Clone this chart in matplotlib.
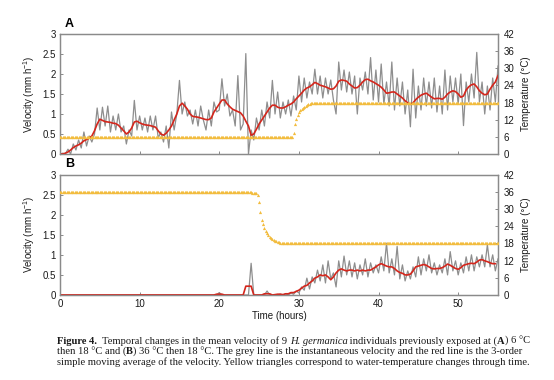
import numpy as np
import matplotlib
matplotlib.use("Agg")
import matplotlib.pyplot as plt
from matplotlib.ticker import FuncFormatter

plt.rcParams['font.family'] = ['Liberation Sans', 'DejaVu Sans']

# ---------------- data ----------------
VEL_STEP_H = 1 / 3      # velocity sampled every 20 min
TEMP_STEP_H = 1 / 6     # temperature sampled every 10 min

grey_A = [
    0.0, 0.02, 0.0, 0.12, 0.0, 0.25, 0.1, 0.35, 0.15, 0.55, 0.2, 0.45,
    0.3, 0.5, 1.15, 0.6, 1.17, 0.7, 1.2, 0.55, 0.95, 0.6, 1.0, 0.55,
    0.7, 0.25, 0.6, 0.45, 1.34, 0.6, 0.95, 0.6, 0.9, 0.55, 0.95, 0.6,
    0.95, 0.4, 0.55, 0.3, 0.7, 0.15, 1.05, 0.6, 1.0, 1.84, 1.0, 1.3,
    0.95, 1.1, 0.75, 1.1, 0.7, 1.2, 0.85, 0.6, 1.1, 0.7, 1.3, 1.05,
    1.1, 1.88, 1.2, 1.5, 0.95, 1.1, 0.7, 1.96, 0.6, 0.75, 2.51, 0.0,
    0.6, 0.35, 0.9, 0.6, 1.1, 0.7, 1.3, 0.9, 1.84, 1.0, 1.55, 0.9,
    1.3, 1.0, 1.35, 0.95, 1.45, 1.1, 1.95, 1.3, 1.9, 1.4, 1.8, 1.5,
    2.12, 1.5, 1.95, 1.4, 1.9, 1.5, 1.85, 1.35, 1.0, 2.3, 1.6, 2.1,
    1.55, 2.05, 1.5, 1.95, 1.0, 1.9, 1.6, 2.05, 1.5, 2.41, 1.35, 2.1,
    1.3, 2.25, 1.25, 1.8, 1.2, 2.3, 1.1, 1.9, 1.2, 1.8, 1.0, 1.6,
    0.68, 2.12, 0.9, 1.7, 1.1, 1.9, 1.2, 1.8, 1.15, 1.9, 1.05, 1.7,
    1.0, 2.1, 1.1, 1.95, 1.3, 1.9, 1.25, 2.0, 0.71, 1.8, 1.3, 2.0,
    1.4, 2.54, 1.3, 1.8, 1.0, 1.7, 1.1, 1.9, 1.3, 2.2,
]
red_A = [
    0.0, 0.0, 0.02, 0.05, 0.1, 0.16, 0.2, 0.23, 0.27, 0.33, 0.36, 0.4,
    0.45, 0.58, 0.75, 0.87, 0.84, 0.81, 0.8, 0.79, 0.77, 0.76, 0.72, 0.65,
    0.58, 0.5, 0.55, 0.65, 0.8, 0.82, 0.78, 0.75, 0.73, 0.72, 0.71, 0.69,
    0.67, 0.58, 0.5, 0.47, 0.52, 0.6, 0.7, 0.85, 1.0, 1.2, 1.27, 1.2,
    1.12, 1.0, 0.94, 0.93, 0.92, 0.9, 0.88, 0.86, 0.86, 0.9, 1.05, 1.15,
    1.25, 1.35, 1.35, 1.25, 1.18, 1.12, 1.09, 1.06, 1.03, 0.95, 0.82, 0.7,
    0.47, 0.5, 0.62, 0.75, 0.85, 0.95, 1.05, 1.15, 1.22, 1.22, 1.17, 1.15,
    1.15, 1.18, 1.22, 1.25, 1.3, 1.38, 1.45, 1.52, 1.6, 1.65, 1.68, 1.73,
    1.79, 1.76, 1.72, 1.7, 1.68, 1.65, 1.62, 1.63, 1.7, 1.82, 1.85, 1.84,
    1.82, 1.75, 1.7, 1.65, 1.66, 1.72, 1.8, 1.86, 1.87, 1.83, 1.8, 1.76,
    1.72, 1.67, 1.6, 1.52, 1.53, 1.55, 1.55, 1.5, 1.45, 1.4, 1.33, 1.28,
    1.24, 1.28, 1.36, 1.42, 1.47, 1.5, 1.52, 1.47, 1.42, 1.38, 1.39, 1.39,
    1.37, 1.42, 1.5, 1.55, 1.58, 1.56, 1.5, 1.42, 1.45, 1.6, 1.68, 1.73,
    1.75, 1.68, 1.58, 1.52, 1.48, 1.5, 1.62, 1.72, 1.8, 1.96,
]
grey_B = [0.0] * 60 + [
    0.06, 0.0, 0.0, 0.0, 0.0, 0.0, 0.0, 0.0, 0.0, 0.0, 0.0, 0.0,
    0.79, 0.0, 0.0, 0.0, 0.0, 0.0, 0.1, 0.0, 0.0, 0.0, 0.0, 0.02,
    0.0, 0.03, 0.0, 0.05, 0.02, 0.1, 0.05, 0.2, 0.12, 0.42, 0.15, 0.45,
    0.3, 0.62, 0.35, 0.75, 0.3, 0.85, 0.4, 0.55, 0.2, 0.85, 0.45, 0.97,
    0.5, 0.85, 0.45, 0.8, 0.4, 0.75, 0.5, 0.9, 0.45, 0.8, 0.55, 0.75,
    0.55, 0.95, 0.6, 1.29, 0.55, 0.9, 0.5, 1.21, 0.4, 0.75, 0.35, 0.6,
    0.4, 0.7, 0.45, 0.95, 0.5, 0.9, 0.6, 1.0, 0.55, 0.8, 0.5, 0.75,
    0.55, 0.9, 0.5, 1.08, 0.6, 0.85, 0.5, 0.8, 0.55, 0.95, 0.6, 1.0,
    0.6, 0.95, 0.7, 1.0, 0.7, 1.25, 0.7, 1.0, 0.6, 0.9,
]
red_B = [0.0] * 59 + [
    0.02, 0.02, 0.02, 0.0, 0.0, 0.0, 0.0, 0.0, 0.0, 0.0, 0.0, 0.22,
    0.22, 0.22, 0.0, 0.0, 0.0, 0.0, 0.03, 0.03, 0.03, 0.0, 0.01, 0.02,
    0.02, 0.01, 0.03, 0.03, 0.06, 0.06, 0.09, 0.12, 0.17, 0.22, 0.24, 0.3,
    0.35, 0.42, 0.45, 0.5, 0.48, 0.5, 0.45, 0.38, 0.45, 0.55, 0.62, 0.65,
    0.62, 0.6, 0.62, 0.62, 0.6, 0.62, 0.6, 0.62, 0.6, 0.62, 0.62, 0.66,
    0.7, 0.75, 0.78, 0.75, 0.72, 0.7, 0.7, 0.66, 0.6, 0.56, 0.54, 0.5,
    0.5, 0.52, 0.6, 0.7, 0.72, 0.74, 0.76, 0.74, 0.7, 0.66, 0.65, 0.66,
    0.66, 0.68, 0.72, 0.77, 0.74, 0.7, 0.66, 0.64, 0.68, 0.74, 0.76, 0.78,
    0.79, 0.78, 0.82, 0.87, 0.88, 0.85, 0.83, 0.8, 0.78, 0.78,
]
temp_A = [6.0] * 176 + [
    7.5, 10.5, 12.3, 13.6, 14.6, 15.3, 15.8, 16.2, 16.6, 16.9, 17.2, 17.4,
    17.55, 17.7, 17.8, 17.85, 17.9,
] + [18.0] * 138
temp_B = [36.0] * 145 + [35.5] * 4 + [
    35.0, 32.5, 29.0, 26.3, 24.6, 23.4, 22.4, 21.5, 20.9, 20.3, 19.9, 19.5,
    19.2, 18.9, 18.7, 18.5, 18.35, 18.25, 18.15, 18.05,
] + [18.0] * 162

vel_ticks = [0, 0.5, 1, 1.5, 2, 2.5, 3]
temp_ticks = [0, 6, 12, 18, 24, 30, 36, 42]
time_ticks = [0, 10, 20, 30, 40, 50]

# ---------------- figure ----------------
W, H = 554, 380
fig = plt.figure(figsize=(W / 100, H / 100), dpi=100)
fig.patch.set_facecolor('white')

GREY = '#8e8e8e'
RED = '#d4261c'
YEL = '#f2bc3e'
SPINE = '#8a8a8a'
TXT = '#1a1a1a'

axA = fig.add_axes([60 / W, 1 - 154 / H, 438 / W, 120 / H])
axB = fig.add_axes([60 / W, 1 - 295 / H, 438 / W, 120.5 / H])


def style(ax, grey, red, temp, show_x):
    tv = np.arange(len(grey)) * VEL_STEP_H
    tr = np.arange(len(red)) * VEL_STEP_H
    tt = np.arange(len(temp)) * TEMP_STEP_H
    ax.plot(tv, grey, color=GREY, lw=0.9, zorder=2)
    ax.plot(tr, red, color=RED, lw=1.2, zorder=3)
    ax.set_xlim(0, 55)
    ax.set_ylim(0, 3)
    ax.set_yticks(vel_ticks)
    ax.yaxis.set_major_formatter(FuncFormatter(lambda v, p: '%g' % v))
    ax.set_xticks(time_ticks)
    for s in ax.spines.values():
        s.set_color(SPINE)
        s.set_linewidth(0.9)
    ax.tick_params(direction='in', length=2.5, width=0.7, color=SPINE,
                   labelsize=7, pad=3, labelcolor=TXT)
    if not show_x:
        ax.tick_params(axis='x', labelbottom=False)
    ax.set_ylabel('Velocity (mm h$\\mathregular{^{-1}}$)', fontsize=7,
                  labelpad=4, color=TXT)
    tw = ax.twinx()
    tw.plot(tt, temp, linestyle='none', marker='^', ms=2.3,
            markeredgewidth=0, color=YEL, zorder=4)
    tw.set_ylim(0, 42)
    tw.set_yticks(temp_ticks)
    tw.set_xlim(0, 55)
    for s in tw.spines.values():
        s.set_color(SPINE)
        s.set_linewidth(0.9)
    tw.tick_params(direction='in', length=2.5, width=0.7, color=SPINE,
                   labelsize=7, pad=4, labelcolor=TXT)
    tw.set_ylabel('Temperature (°C)', fontsize=7, labelpad=5, color=TXT)
    return tw


style(axA, grey_A, red_A, temp_A, False)
style(axB, grey_B, red_B, temp_B, True)
axB.set_xlabel('Time (hours)', fontsize=7, labelpad=1, color=TXT)

fig.text(65 / W, 1 - 24 / H, 'A', fontsize=9, fontweight='bold', va='center')
fig.text(65 / W, 1 - 164 / H, 'B', fontsize=9, fontweight='bold', va='center')

# ---------------- caption (rich text built from pieces) ----------------
N, B, I = 'normal', 'bold', 'italic'
cap_lines = [
    [("Figure 4.", B), ("  Temporal changes in the mean velocity of 9 ", N),
     ("H. germanica", I), (" individuals previously exposed at (", N),
     ("A", B), (") 6 °C", N)],
    [("then 18 °C and (", N), ("B", B),
     (") 36 °C then 18 °C. The grey line is the instantaneous velocity and the red line is the 3-order", N)],
    [("simple moving average of the velocity. Yellow triangles correspond to water-temperature changes through time.", N)],
]
cap_baseline = [344.2, 354.5, 364.8]
renderer = fig.canvas.get_renderer()
for pieces, yy in zip(cap_lines, cap_baseline):
    x = 57.0
    for txt, kind in pieces:
        t = fig.text(x / W, 1 - yy / H, txt, fontsize=7.6,
                     family='Liberation Serif', va='baseline', ha='left',
                     color=TXT,
                     fontweight='bold' if kind == B else 'normal',
                     fontstyle='italic' if kind == I else 'normal')
        x += t.get_window_extent(renderer).width

fig.savefig('out.png', dpi=100)
